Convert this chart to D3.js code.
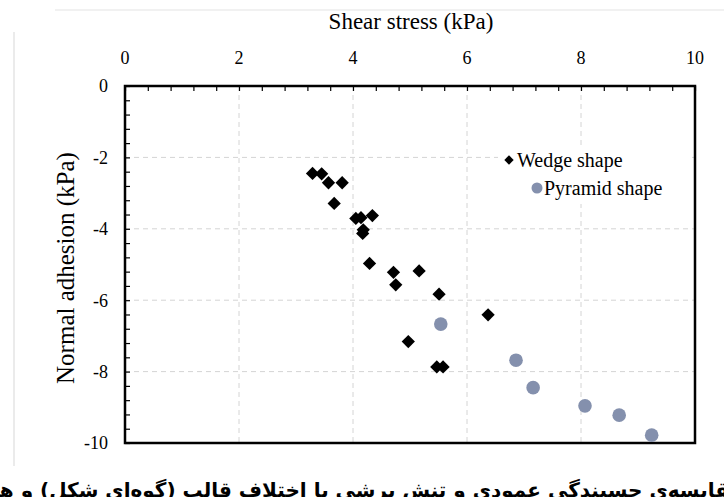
<!DOCTYPE html>
<html>
<head>
<meta charset="utf-8">
<script src="https://cdn.jsdelivr.net/npm/d3@7"></script>
<style>
  body { margin: 0; background: #fff; }
  svg { display: block; }
</style>
</head>
<body>
<div id="chart"></div>
<script>
// Shear stress (x) vs normal adhesion (y), kPa
const wedgeShear = [3.29, 3.45, 3.57, 3.81, 3.67, 4.05, 4.14, 4.34, 4.18, 4.17,
                    4.29, 4.71, 4.75, 5.16, 5.51, 6.37, 4.97, 5.47, 5.58];
const wedgeAdhesion = [-2.45, -2.46, -2.71, -2.71, -3.29, -3.71, -3.69, -3.63, -4.03, -4.13,
                       -4.97, -5.22, -5.57, -5.18, -5.83, -6.41, -7.16, -7.87, -7.87];
const pyramidShear = [5.54, 6.86, 7.16, 8.07, 8.67, 9.24];
const pyramidAdhesion = [-6.67, -7.68, -8.45, -8.96, -9.22, -9.78];
const xTicks = [0, 2, 4, 6, 8, 10];
const yTicks = [0, -2, -4, -6, -8, -10];
const seriesNames = ["Wedge shape", "Pyramid shape"];
const caption = "مقایسه‌ی چسبندگی عمودی و تنش برشی با اختلاف قالب (گوه‌ای شکل) و هرمی با اختلاف شیب‌دار";

const W = 724, H = 497;
const margin = {top: 86, right: 29, bottom: 54, left: 125};
const serif = "'Liberation Serif', 'Times New Roman', serif";

const svg = d3.select("#chart").append("svg")
    .attr("width", W)
    .attr("height", H);

// faint page edges from the source screenshot
svg.append("line")
    .attr("x1", 55).attr("x2", W).attr("y1", 10).attr("y2", 10)
    .attr("stroke", "#ececec").attr("stroke-width", 1.5);
svg.append("line")
    .attr("x1", 14).attr("x2", 14).attr("y1", 32).attr("y2", 466)
    .attr("stroke", "#e4e4e4").attr("stroke-width", 1.5);

const x = d3.scaleLinear().domain([0, 10]).range([margin.left, W - margin.right]);
const y = d3.scaleLinear().domain([-10, 0]).range([H - margin.bottom, margin.top]);

// dashed gridlines
svg.append("g")
    .selectAll("line")
    .data(xTicks.slice(1, -1))
    .join("line")
    .attr("x1", d => x(d)).attr("x2", d => x(d))
    .attr("y1", y(0)).attr("y2", y(-10))
    .attr("stroke", "#d4d4d4").attr("stroke-dasharray", "5,4");
svg.append("g")
    .selectAll("line")
    .data(yTicks.slice(1, -1))
    .join("line")
    .attr("x1", x(0)).attr("x2", x(10))
    .attr("y1", d => y(d)).attr("y2", d => y(d))
    .attr("stroke", "#d4d4d4").attr("stroke-dasharray", "5,4");

// top axis: inward ticks every 0.4
const xMinor = d3.range(0, 10.001, 0.4);
const topAxis = svg.append("g")
    .attr("transform", `translate(0,${y(0)})`)
    .call(d3.axisTop(x).tickValues(xMinor).tickSize(-5).tickFormat(""));
topAxis.select(".domain").remove();
topAxis.selectAll("line").attr("stroke", "#000").attr("stroke-width", 1.2);

svg.append("g")
    .selectAll("text")
    .data(xTicks)
    .join("text")
    .attr("x", d => x(d))
    .attr("y", 64)
    .attr("text-anchor", "middle")
    .style("font-family", serif)
    .style("font-size", "18px")
    .text(d => d);

// left axis: inward ticks every 0.4
const yMinor = d3.range(0, 10.001, 0.4).map(v => -v);
const leftAxis = svg.append("g")
    .attr("transform", `translate(${x(0)},0)`)
    .call(d3.axisLeft(y).tickValues(yMinor).tickSize(-5).tickFormat(""));
leftAxis.select(".domain").remove();
leftAxis.selectAll("line").attr("stroke", "#000").attr("stroke-width", 1.2);

svg.append("g")
    .selectAll("text")
    .data(yTicks)
    .join("text")
    .attr("x", 108)
    .attr("y", d => y(d))
    .attr("dy", "0.35em")
    .attr("text-anchor", "end")
    .style("font-family", serif)
    .style("font-size", "18px")
    .text(d => d);

// plot frame
svg.append("rect")
    .attr("x", x(0)).attr("y", y(0))
    .attr("width", x(10) - x(0))
    .attr("height", y(-10) - y(0))
    .attr("fill", "none")
    .attr("stroke", "#000")
    .attr("stroke-width", 2.5);

// axis titles
svg.append("text")
    .attr("x", 411)
    .attr("y", 29)
    .attr("text-anchor", "middle")
    .style("font-family", serif)
    .style("font-size", "23px")
    .text("Shear stress (kPa)");

svg.append("text")
    .attr("transform", "rotate(-90)")
    .attr("x", -268)
    .attr("y", 74)
    .attr("text-anchor", "middle")
    .style("font-family", serif)
    .style("font-size", "25px")
    .text("Normal adhesion (kPa)");

// points
const diamond = d3.symbol().type(d3.symbolSquare).size(88);
const wedge = wedgeShear.map((v, i) => ({sx: v, ad: wedgeAdhesion[i]}));
const pyramid = pyramidShear.map((v, i) => ({sx: v, ad: pyramidAdhesion[i]}));

svg.append("g")
    .selectAll("circle")
    .data(pyramid)
    .join("circle")
    .attr("cx", d => x(d.sx))
    .attr("cy", d => y(d.ad))
    .attr("r", 6.8)
    .attr("fill", "#8490ad");

svg.append("g")
    .selectAll("path")
    .data(wedge)
    .join("path")
    .attr("d", diamond)
    .attr("transform", d => `translate(${x(d.sx)},${y(d.ad)}) rotate(45)`)
    .attr("fill", "#000");

// legend
const legend = svg.append("g").attr("transform", "translate(498,146)");
legend.append("rect")
    .attr("x", 0).attr("y", 0).attr("width", 194).attr("height", 58)
    .attr("fill", "#fff");
legend.append("path")
    .attr("d", d3.symbol().type(d3.symbolSquare).size(44))
    .attr("transform", "translate(11,14) rotate(45)")
    .attr("fill", "#000");
legend.append("circle")
    .attr("cx", 39).attr("cy", 42).attr("r", 5.5)
    .attr("fill", "#8490ad");
legend.append("text")
    .attr("x", 19).attr("y", 14).attr("dy", "0.35em")
    .style("font-family", serif).style("font-size", "20px")
    .text(seriesNames[0]);
legend.append("text")
    .attr("x", 46).attr("y", 42).attr("dy", "0.35em")
    .style("font-family", serif).style("font-size", "20px")
    .text(seriesNames[1]);

// caption line (cut off by the bottom of the frame, as in the source)
svg.append("text")
    .attr("x", 742)
    .attr("y", 497)
    .attr("direction", "rtl")
    .attr("text-anchor", "start")
    .style("font-family", "'DejaVu Sans', sans-serif")
    .style("font-weight", "bold")
    .style("font-size", "20px")
    .text(caption);
</script>
</body>
</html>
